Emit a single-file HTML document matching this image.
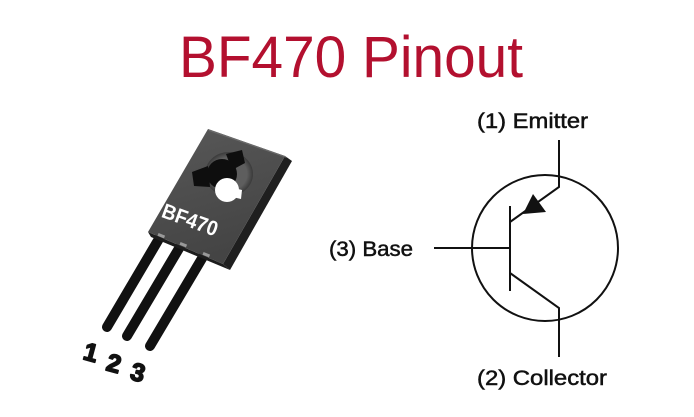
<!DOCTYPE html>
<html><head><meta charset="utf-8"><style>
html,body{margin:0;padding:0;background:#fff;}
svg{display:block;}
</style></head><body>
<svg width="694" height="417" viewBox="0 0 694 417" xmlns="http://www.w3.org/2000/svg">
<defs>
<linearGradient id="fg" x1="0" y1="0" x2="0.3" y2="1">
<stop offset="0" stop-color="#585858"/>
<stop offset="1" stop-color="#444"/>
</linearGradient>
<radialGradient id="ring" cx="0.5" cy="0.5" r="0.5">
<stop offset="0.75" stop-color="#5e5e5e"/>
<stop offset="1" stop-color="#3a3a3a"/>
</radialGradient>
</defs>
<rect width="694" height="417" fill="#fff"/>
<text x="179" y="77" font-family="Liberation Sans, sans-serif" font-size="58" fill="#b3102f" textLength="344" lengthAdjust="spacingAndGlyphs">BF470 Pinout</text>

<!-- leads -->
<g stroke="#111" stroke-width="10" stroke-linecap="round">
<line x1="163" y1="232" x2="107" y2="327"/>
<line x1="184" y1="240" x2="127" y2="336"/>
<line x1="207" y1="250" x2="150" y2="346"/>
</g>
<!-- body -->
<polygon points="285,156 292,161 230,270 223,264" fill="#1f1f1f"/>
<polygon points="148,232 223,264 230,270 151,237" fill="#1c1c1c"/>
<polygon points="208,129 285,156 223,264 148,232" fill="url(#fg)"/>
<polygon points="208,129 285,156 287,158 209,131" fill="#6a6a6a"/>
<!-- pin stubs -->
<g fill="#999">
<rect x="158" y="234" width="7" height="3" transform="rotate(22 161 235)"/>
<rect x="180" y="243" width="7" height="3" transform="rotate(22 183 244)"/>
<rect x="203" y="253" width="7" height="3" transform="rotate(22 206 254)"/>
</g>
<!-- hole -->
<ellipse cx="229" cy="174" rx="24" ry="22" fill="url(#ring)"/>
<circle cx="222" cy="174" r="15" fill="#0e0e0e"/>
<polygon points="192,172 208,166 210,187 194,186" fill="#0e0e0e"/>
<polygon points="226,154 242,150 245,163 232,170" fill="#0e0e0e"/>
<circle cx="227" cy="190" r="12" fill="#fff"/>
<polygon points="230,187 242,190 241,199 228,196" fill="#fff"/>
<text x="190" y="227" font-family="Liberation Sans, sans-serif" font-size="21" font-weight="bold" fill="#fff" text-anchor="middle" textLength="58" lengthAdjust="spacingAndGlyphs" transform="rotate(20 190 220)">BF470</text>

<!-- numbers -->
<g font-family="Liberation Sans, sans-serif" font-size="25" font-weight="bold" fill="#111" stroke="#111" stroke-width="1.6" stroke-linejoin="round" text-anchor="middle">
<text x="91" y="361" transform="rotate(15 91 352)">1</text>
<text x="114" y="372" transform="rotate(15 114 363)">2</text>
<text x="138" y="381" transform="rotate(15 138 372)">3</text>
</g>

<!-- schematic -->
<g stroke="#111" stroke-width="2" fill="none">
<circle cx="545" cy="248" r="73"/>
<line x1="434" y1="248" x2="510" y2="248"/>
<line x1="510" y1="206" x2="510" y2="291"/>
<polyline points="559,140 559,187 510,222"/>
<polyline points="510,273 559,308 559,357"/>
</g>
<polygon points="533,194 546,212 523,214" fill="#111"/>

<g font-family="Liberation Sans, sans-serif" font-size="21" fill="#111" stroke="#111" stroke-width="0.5">
<text x="477" y="128" textLength="111" lengthAdjust="spacingAndGlyphs">(1) Emitter</text>
<text x="329" y="256" textLength="84" lengthAdjust="spacingAndGlyphs">(3) Base</text>
<text x="477" y="385" textLength="130" lengthAdjust="spacingAndGlyphs">(2) Collector</text>
</g>
</svg>
</body></html>
